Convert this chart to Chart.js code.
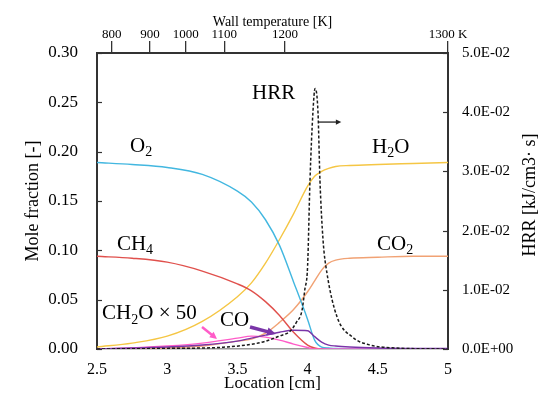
<!DOCTYPE html>
<html>
<head>
<meta charset="utf-8">
<title>Mole fraction and HRR</title>
<style>
  html, body { margin: 0; padding: 0; background: #fff; }
</style>
</head>
<body>
<script src="https://cdn.jsdelivr.net/npm/chart.js@4.4.0/dist/chart.umd.min.js"></script>

<canvas id="myChart" width="538" height="403"></canvas>

<script type="text/javascript">
// species mole fractions along the location axis [cm]
var loc    = [2.5, 2.75, 3.0, 3.25, 3.5, 3.6, 3.7, 3.8, 3.9, 4.0, 4.05, 4.1, 4.15, 4.2, 4.3, 4.5, 4.75, 5.0];
var o2     = [0.189, 0.187, 0.184, 0.177, 0.160, 0.149, 0.131, 0.105, 0.068, 0.030, 0.009, 0.002, 0.001, 0.0005, 0.0003, 0.0002, 0.0001, 0.0001];
var ch4    = [0.094, 0.092, 0.088, 0.079, 0.066, 0.059, 0.048, 0.034, 0.017, 0.004, 0.001, 0, 0, 0, 0, 0, 0, 0];
var h2o    = [0.002, 0.006, 0.013, 0.028, 0.053, 0.067, 0.087, 0.111, 0.137, 0.165, 0.175, 0.180, 0.183, 0.185, 0.186, 0.187, 0.188, 0.189];
var co2    = [0.0, 0.0005, 0.001, 0.003, 0.008, 0.010, 0.016, 0.027, 0.040, 0.058, 0.069, 0.080, 0.087, 0.090, 0.092, 0.093, 0.094, 0.094];
var co     = [0.0, 0.001, 0.002, 0.004, 0.008, 0.011, 0.014, 0.017, 0.019, 0.0185, 0.0125, 0.007, 0.004, 0.003, 0.002, 0.001, 0.0005, 0.0005];
var ch2o50 = [0.0, 0.001, 0.003, 0.006, 0.011, 0.013, 0.012, 0.009, 0.005, 0.0015, 0, 0, 0, 0, 0, 0, 0, 0];

// heat release rate [kJ/cm3 s]
var hrrLoc = [2.5, 3.0, 3.4, 3.6, 3.7, 3.8, 3.875, 3.92, 3.96, 3.98, 4.0, 4.017, 4.038, 4.053, 4.074, 4.088, 4.11, 4.138, 4.21, 4.32, 4.44, 4.6, 5.0];
var hrr    = [0, 0.0001, 0.0003, 0.0008, 0.0013, 0.0022, 0.003, 0.0045, 0.0065, 0.010, 0.014, 0.0285, 0.040, 0.0440, 0.040, 0.0285, 0.0184, 0.0128, 0.0054, 0.002, 0.0007, 0.0002, 0];

// top axis: wall temperature ticks placed at locations
var wallPos    = [2.605, 2.877, 3.132, 3.407, 3.839, 5.0];
var wallLabels = ["800", "900", "1000", "1100", "1200", "1300 K"];

var SERIF = "'Liberation Serif', 'Times New Roman', serif";

function pts(xs, ys) {
  return xs.map(function (x, i) { return {x: x, y: ys[i]}; });
}

function sci(v) {
  if (v === 0) return "0.0E+00";
  var e = Math.floor(Math.log10(v) + 1e-9);
  var m = v / Math.pow(10, e);
  var s = e < 0 ? "-" : "+";
  var a = Math.abs(e);
  return m.toFixed(1) + "E" + s + (a < 10 ? "0" + a : a);
}

function line(label, xs, ys, color, axis) {
  return {label: label, data: pts(xs, ys), borderColor: color, backgroundColor: color,
          borderWidth: 1.4, pointRadius: 0, fill: false, cubicInterpolationMode: 'monotone',
          xAxisID: 'x', yAxisID: axis};
}

var hrrSet = line("HRR", hrrLoc, hrr, "#1a1a1a", 'y2');
hrrSet.borderDash = [3, 2];
hrrSet.borderWidth = 1.5;

var datasets = [
  hrrSet,
  line("CO", loc, co, "#7A35A8", 'y'),
  line("CH2O x 50", loc, ch2o50, "#FF5CC8", 'y'),
  line("O2", loc, o2, "#42B7E0", 'y'),
  line("CH4", loc, ch4, "#E0504C", 'y'),
  line("H2O", loc, h2o, "#F5C644", 'y'),
  line("CO2", loc, co2, "#F1A274", 'y')
];

// annotations (text in data coordinates, left edge / vertical middle)
var notes = [
  {parts: [["O", 0], ["2", 1]], x: 2.735, y: 0.205},
  {parts: [["CH", 0], ["4", 1]], x: 2.642, y: 0.106},
  {parts: [["H", 0], ["2", 1], ["O", 0]], x: 4.459, y: 0.204},
  {parts: [["CO", 0], ["2", 1]], x: 4.494, y: 0.106},
  {parts: [["HRR", 0]], x: 3.604, y: 0.259},
  {parts: [["CH", 0], ["2", 1], ["O \u00D7 50", 0]], x: 2.536, y: 0.0355},
  {parts: [["CO", 0]], x: 3.376, y: 0.0294}
];
var arrows = [
  {x0: 4.08, y0: 0.230, x1: 4.24, y1: 0.230, color: "#222", w: 1.3, head: 6},
  {x0: 3.248, y0: 0.0223, x1: 3.355, y1: 0.0101, color: "#FF5CC8", w: 2.5, head: 8},
  {x0: 3.59, y0: 0.0223, x1: 3.775, y1: 0.0152, color: "#7A35A8", w: 3.5, head: 10}
];

function drawArrow(ctx, a, b, c) {
  var ang = Math.atan2(b.y - a.y, b.x - a.x);
  var h = c.head;
  ctx.save();
  ctx.strokeStyle = c.color;
  ctx.fillStyle = c.color;
  ctx.lineWidth = c.w;
  ctx.beginPath();
  ctx.moveTo(a.x, a.y);
  ctx.lineTo(b.x - Math.cos(ang) * h * 0.8, b.y - Math.sin(ang) * h * 0.8);
  ctx.stroke();
  ctx.beginPath();
  ctx.moveTo(b.x, b.y);
  ctx.lineTo(b.x - h * Math.cos(ang - 0.45), b.y - h * Math.sin(ang - 0.45));
  ctx.lineTo(b.x - h * Math.cos(ang + 0.45), b.y - h * Math.sin(ang + 0.45));
  ctx.closePath();
  ctx.fill();
  ctx.restore();
}

var decor = {
  id: 'decor',
  afterDatasetsDraw: function (chart) {
    var ctx = chart.ctx, sx = chart.scales.x, sy = chart.scales.y, sy2 = chart.scales.y2;
    var area = chart.chartArea;
    ctx.save();
    // inward tick marks
    ctx.strokeStyle = "#333";
    ctx.lineWidth = 1.2;
    sy.ticks.forEach(function (t) {
      var py = Math.round(sy.getPixelForValue(t.value)) + 0.5;
      ctx.beginPath(); ctx.moveTo(area.left, py); ctx.lineTo(area.left + 5, py); ctx.stroke();
    });
    sy2.ticks.forEach(function (t) {
      var py = Math.round(sy2.getPixelForValue(t.value)) + 0.5;
      ctx.beginPath(); ctx.moveTo(area.right - 5, py); ctx.lineTo(area.right, py); ctx.stroke();
    });
    // arrows
    arrows.forEach(function (a) {
      drawArrow(ctx, {x: sx.getPixelForValue(a.x0), y: sy.getPixelForValue(a.y0)},
                     {x: sx.getPixelForValue(a.x1), y: sy.getPixelForValue(a.y1)}, a);
    });
    // species labels
    ctx.fillStyle = "#000";
    ctx.textBaseline = "middle";
    ctx.textAlign = "left";
    notes.forEach(function (n) {
      var px = sx.getPixelForValue(n.x), py = sy.getPixelForValue(n.y);
      n.parts.forEach(function (p) {
        ctx.font = (p[1] ? "14px " : "21px ") + SERIF;
        ctx.fillText(p[0], px, py + (p[1] ? 6 : 0));
        px += ctx.measureText(p[0]).width;
      });
    });
    // right axis title, reading bottom to top
    ctx.font = "18px " + SERIF;
    ctx.textAlign = "center";
    ctx.translate(530, (area.top + area.bottom) / 2 - 6);
    ctx.rotate(-Math.PI / 2);
    ctx.fillText("HRR [kJ/cm3\u00B7 s]", 0, 0);
    ctx.restore();
  }
};

var ctx = document.getElementById("myChart").getContext("2d");

var myChart = new Chart(ctx, {
  type: 'line',
  data: {datasets: datasets},
  plugins: [decor],
  options: {
    responsive: false,
    animation: false,
    layout: {padding: 0},
    plugins: {legend: {display: false}, tooltip: {enabled: false}},
    scales: {
      x: {
        type: 'linear', position: 'bottom', min: 2.5, max: 5,
        afterFit: function (s) { s.height = 54; },
        grid: {display: false},
        border: {display: true, color: "#9a9a9a", width: 1.5},
        ticks: {stepSize: 0.5, padding: 3, color: "#000", font: {family: SERIF, size: 16},
                maxRotation: 0, callback: function (v) { return String(v); }},
        title: {display: true, text: "Location [cm]", color: "#000", font: {family: SERIF, size: 17},
                padding: {top: 0, bottom: 9}}
      },
      x2: {
        type: 'linear', position: 'top', min: 2.5, max: 5,
        afterFit: function (s) { s.height = 53; },
        afterBuildTicks: function (s) { s.ticks = wallPos.map(function (v) { return {value: v}; }); },
        grid: {display: true, drawOnChartArea: false, drawTicks: true, tickLength: 12, color: "#333", lineWidth: 1.3},
        border: {display: true, color: "#333", width: 2},
        ticks: {autoSkip: false, maxRotation: 0, padding: -1, color: "#000", font: {family: SERIF, size: 13},
                callback: function (v, i) { return wallLabels[i]; }},
        title: {display: true, text: "Wall temperature [K]", color: "#000", font: {family: SERIF, size: 14},
                padding: {top: 14, bottom: 0}}
      },
      y: {
        type: 'linear', position: 'left', min: 0, max: 0.3,
        afterFit: function (s) { s.width = 97; },
        grid: {display: false, drawTicks: false},
        border: {display: true, color: "#333", width: 2},
        ticks: {stepSize: 0.05, padding: 19, color: "#000", font: {family: SERIF, size: 17},
                callback: function (v) { return v.toFixed(2); }},
        title: {display: true, text: "Mole fraction [-]", color: "#000", font: {family: SERIF, size: 18},
                padding: {top: 22, bottom: 0}}
      },
      y2: {
        type: 'linear', position: 'right', min: 0, max: 0.05,
        afterFit: function (s) { s.width = 90; },
        grid: {display: false, drawTicks: false},
        border: {display: true, color: "#333", width: 2},
        ticks: {stepSize: 0.01, padding: 14, color: "#000", font: {family: SERIF, size: 15},
                callback: function (v) { return sci(v); }}
      }
    }
  }
});
</script>
</body>
</html>
